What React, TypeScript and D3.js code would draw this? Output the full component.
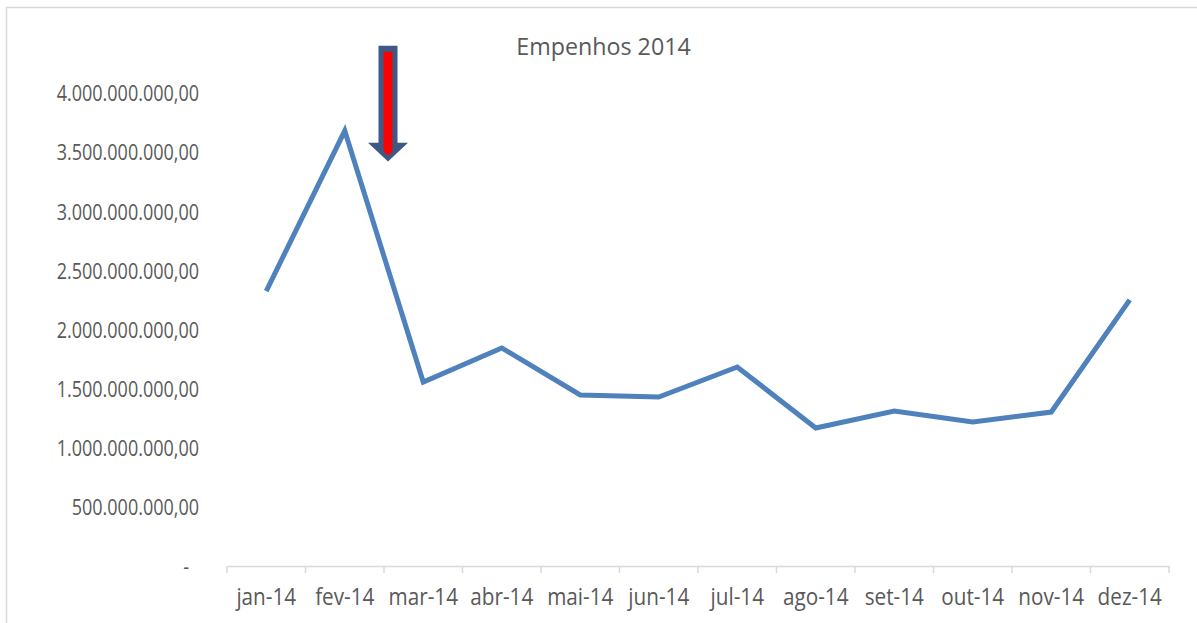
import React, { useRef, useEffect } from 'react';
import * as d3 from 'd3';

const months = ['jan-14', 'fev-14', 'mar-14', 'abr-14', 'mai-14', 'jun-14', 'jul-14', 'ago-14', 'set-14', 'out-14', 'nov-14', 'dez-14'];
const empenhos = [2.325e9, 3.68e9, 1.556e9, 1.844e9, 1.446e9, 1.429e9, 1.683e9, 1.167e9, 1.311e9, 1.218e9, 1.302e9, 2.25e9];
const yTicks = [0, 5e8, 1e9, 1.5e9, 2e9, 2.5e9, 3e9, 3.5e9, 4e9];

const W = 1197;
const H = 623;
const FONT = '"Open Sans", sans-serif';
const TEXT = '#595959';

const fmt = (v: number) => {
  if (v === 0) return '-';
  const s = Math.round(v).toString().replace(/\B(?=(\d{3})+(?!\d))/g, '.');
  return s + ',00';
};

const App = () => {
  const svgRef = useRef<SVGSVGElement>(null);

  useEffect(() => {
    const svg = d3.select(svgRef.current);
    svg.selectAll('*').remove();

    svg.append('rect').attr('width', W).attr('height', H).attr('fill', '#fff');
    // chart border
    svg.append('path')
      .attr('d', `M6.5,${H} V7.5 H${W}`)
      .attr('fill', 'none')
      .attr('stroke', '#d9d9d9')
      .attr('stroke-width', 1.5);

    const x = d3.scaleBand().domain(months).range([227, 1169]);
    const y = d3.scaleLinear().domain([0, 4e9]).range([566, 93]);

    // narrow text helper (Calibri-like proportions)
    const label = (
      parent: d3.Selection<any, any, any, any>,
      tx: number, ty: number, txt: string, anchor: string, size: number, sx: number,
    ) => {
      parent.append('g')
        .attr('transform', `translate(${tx},${ty}) scale(${sx},1)`)
        .append('text')
        .attr('text-anchor', anchor)
        .attr('font-family', FONT).attr('font-size', size)
        .attr('fill', TEXT)
        .text(txt);
    };

    label(svg, 603.5, 55, 'Empenhos 2014', 'middle', 24.5, 0.95);

    // y labels
    const gy = svg.append('g');
    yTicks.forEach((d) => {
      label(gy, d === 0 ? 189 : 199, y(d) + 8.3, fmt(d), 'end', 22.5, 0.8);
    });

    // x axis
    const xAxis = d3.axisBottom(x).tickSize(0).tickFormat(() => '');
    const gx = svg.append('g').attr('transform', `translate(0,${y(0)})`).call(xAxis);
    gx.select('.domain').attr('stroke', '#d9d9d9').attr('stroke-width', 1.5);
    const bounds = months.map((m) => x(m) as number).concat([x.range()[1]]);
    gx.selectAll('.bound').data(bounds).join('line')
      .attr('x1', (d) => d).attr('x2', (d) => d)
      .attr('y1', 0).attr('y2', 7)
      .attr('stroke', '#d9d9d9').attr('stroke-width', 1.5);
    months.forEach((m) => {
      label(gx, (x(m) as number) + x.bandwidth() / 2, 39, m, 'middle', 23, 0.9);
    });

    const line = d3.line<number>()
      .x((_, i) => (x(months[i]) as number) + x.bandwidth() / 2)
      .y((d) => y(d));

    svg.append('path')
      .datum(empenhos)
      .attr('fill', 'none')
      .attr('stroke', '#4f81bd')
      .attr('stroke-width', 5)
      .attr('d', line);

    // arrow annotation
    const ax = x('mar-14') as number + 4;
    const top = y(4.4e9);
    const headBase = y(3.58e9);
    const tip = y(3.42e9);
    svg.append('path')
      .attr('d', `M${ax - 9.5},${top} H${ax + 9.5} V${headBase} H${ax + 20} L${ax},${tip} L${ax - 20},${headBase} H${ax - 9.5} Z`)
      .attr('fill', '#3d5a87');
    svg.append('path')
      .attr('d', `M${ax - 4.5},${top + 6} H${ax + 4.5} V${tip - 10} L${ax},${tip - 6} L${ax - 4.5},${tip - 10} Z`)
      .attr('fill', '#ff0000');
  }, []);

  return (
    <svg ref={svgRef} width={W} height={H} style={{ position: 'absolute', left: 0, top: 0 }} />
  );
};

export default App;
